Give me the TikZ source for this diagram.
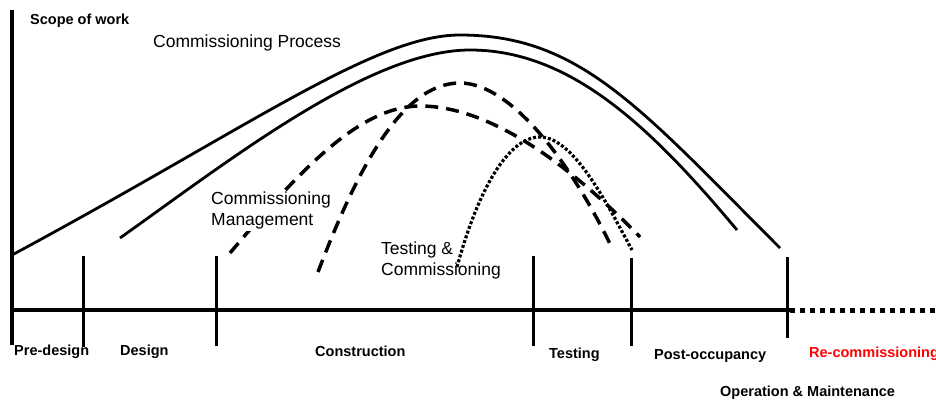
\documentclass[tikz,border=0pt]{standalone}
\usepackage{fontspec}
\setmainfont{Liberation Sans}

\begin{document}
\begin{tikzpicture}[
  x=1pt,y=-1pt,
  every node/.style={inner sep=0pt},
  phase/.style={font=\fontsize{14.5}{17}\selectfont\bfseries,anchor=base west},
  lab/.style={font=\fontsize{17.5}{21}\selectfont,align=left},
  axis/.style={line width=4pt},
  tick/.style={line width=3pt},
  process/.style={line width=2.8pt},
  mgmt/.style={line width=3.5pt,dash pattern=on 13pt off 8pt},
  tcurve/.style={line width=3.2pt,dash pattern=on 3pt off 2pt}]
  \useasboundingbox (0,0) rectangle (936,401);

  % Axes and phase boundaries.
  \draw[axis] (12,10) -- (12,345);
  \draw[axis] (12,310) -- (790,310);
  \draw[line width=5pt,dash pattern=on 5pt off 5pt] (790,310) -- (936,310);
  \foreach \x/\top/\bot in {83/256/347,216/256/346,533/256/346,631/258/346,787/257/338}
    \draw[tick] (\x,\top) -- (\x,\bot);

  % Commissioning process envelope.
  \draw[process] (12,255) .. controls (250,127) and (375,35) .. (460,35)
    .. controls (580,35) and (640,108) .. (780,248);
  \draw[process] (120,238) .. controls (230,160) and (370,50) .. (470,50)
    .. controls (570,50) and (650,126) .. (737,230);

  % Commissioning management curves.
  \draw[mgmt] (230,253) .. controls (300,170) and (360,106) .. (420,106)
    .. controls (490,106) and (570,165) .. (640,237);
  \draw[mgmt] (318,272) .. controls (355,175) and (400,83) .. (460,83)
    .. controls (510,83) and (570,160) .. (613,250);

  % Testing and commissioning curve.
  \draw[tcurve] (457,267) .. controls (478,190) and (508,137) .. (540,137)
    .. controls (575,137) and (610,210) .. (632,250);

  % Labels.
  \node[phase] (scope) at (30,25) {Scope of work};
  \node[lab,anchor=base west] (cproc) at (153,48) {Commissioning Process};
  \node[lab,anchor=north west,fill=white,inner sep=1pt] (cmgmt) at (210,191)
    {Commissioning\\Management};
  \node[lab,anchor=north west] (tcomm) at (381,242) {Testing \&\\Commissioning};

  % Phase names.
  \node[phase] (pre) at (14,355) {Pre-design};
  \node[phase] (des) at (120,355) {Design};
  \node[phase] (con) at (315,356) {Construction};
  \node[phase] (tst) at (549,358) {Testing};
  \node[phase] (post) at (654,359) {Post-occupancy};
  \node[phase,red] (recomm) at (809,357) {Re-commissioning};
  \node[phase] (om) at (720,396) {Operation \& Maintenance};
\end{tikzpicture}
\end{document}
